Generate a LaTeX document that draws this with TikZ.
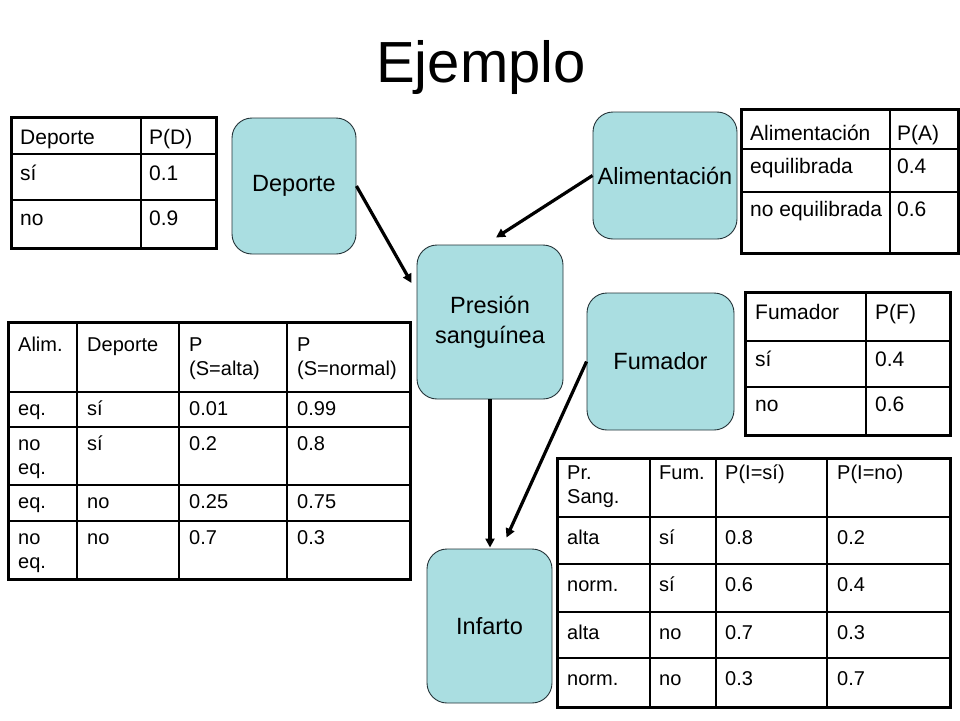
\documentclass[tikz,border=0pt]{standalone}
\usepackage{fontspec}
\setmainfont{Liberation Sans}
\usetikzlibrary{arrows.meta}
\definecolor{nodecyan}{RGB}{170,222,225}
\definecolor{nodeedge}{RGB}{35,50,55}
\newcommand\mytabfont{\fontsize{20}{24}\selectfont}
\newcommand\mybigtabfont{\fontsize{21}{25}\selectfont}
\newcommand\mynodefont{\fontsize{23.5}{30}\selectfont}
\begin{document}
\begin{tikzpicture}[x=1pt,y=-1pt,
  cellt/.style={anchor=base west, inner sep=0pt, font=\mytabfont},
  cellb/.style={anchor=base west, inner sep=0pt, font=\mybigtabfont},
  outerline/.style={line width=3pt},
  innerline/.style={line width=1.1pt},
  bnode/.style={draw=nodeedge, line width=0.9pt, fill=nodecyan, rounded corners=20pt,
     font=\mynodefont, align=center, inner sep=0pt},
  arr/.style={line width=3.2pt, -{Triangle[length=9pt,width=9pt]}}]
\useasboundingbox (0,0) rectangle (960,720);

% title
\node[font=\fontsize{58}{66}\selectfont, anchor=base, inner sep=0pt] (title) at (481,82) {Ejemplo};

% network nodes
\node[bnode, minimum width=124pt, minimum height=136pt] (dep) at (294,186) {Deporte};
\node[bnode, minimum width=144pt, minimum height=127pt] (alim) at (665,175.5) {Alimentación};
\node[bnode, minimum width=146pt, minimum height=154pt] (pres) at (490,322) {Presión\\sanguínea};
\node[bnode, minimum width=147pt, minimum height=137pt] (fum) at (660.5,361.5) {Fumador};
\node[bnode, minimum width=125pt, minimum height=154pt] (inf) at (489.5,626) {Infarto};

% arrows
\draw[arr] (dep.east) -- ([xshift=-5pt,yshift=39pt]pres.west);
\draw[arr] (alim.west) -- ([xshift=6pt,yshift=7pt]pres.north);
\draw[arr] (pres.south) -- ([yshift=1pt]pres.south |- inf.north);
\draw[arr] (fum.west) -- ([xshift=17pt,yshift=11pt]inf.north);

% table P(D)
\draw[innerline] (141,117) -- (141,248) (11,154) -- (216,154) (11,200) -- (216,200);
\draw[outerline] (11,117) rectangle (216,248);
\foreach \x/\y/\t [count=\i] in {20/144/Deporte, 149/144/P(D), 20/180/sí, 149/180/0.1, 20/225/no, 149/225/0.9}
  \node[cellb] (ta\i) at (\x,\y) {\t};

% table P(A)
\draw[innerline] (890,109) -- (890,253) (741,149) -- (958,149) (741,192) -- (958,192);
\draw[outerline] (741,109) rectangle (958,253);
\foreach \x/\y/\t [count=\i] in {750/140/Alimentación, 897/140/P(A), 750/173/equilibrada, 897/173/0.4, 750/216/no equilibrada, 897/216/0.6}
  \node[cellb] (tb\i) at (\x,\y) {\t};

% table P(F)
\draw[innerline] (866,292) -- (866,435) (745,341) -- (950,341) (745,387) -- (950,387);
\draw[outerline] (745,292) rectangle (950,435);
\foreach \x/\y/\t [count=\i] in {755/319/Fumador, 875/319/P(F), 755/366/sí, 875/366/0.4, 755/411/no, 875/411/0.6}
  \node[cellb] (tc\i) at (\x,\y) {\t};

% table P(S | A, D)
\draw[innerline] (77,322) -- (77,579) (179,322) -- (179,579) (287,322) -- (287,579)
  (8,392) -- (410,392) (8,427) -- (410,427) (8,485) -- (410,485) (8,521) -- (410,521);
\draw[outerline] (8,322) rectangle (410,579);
\foreach \x/\y/\t [count=\i] in {18/351/Alim., 87/351/Deporte, 189/351/P, 189/375/(S=alta), 297/351/P, 297/375/(S=normal),
  18/415/eq., 87/415/sí, 189/415/0.01, 297/415/0.99,
  18/450/no, 18/474/eq., 87/450/sí, 189/450/0.2, 297/450/0.8,
  18/508/eq., 87/508/no, 189/508/0.25, 297/508/0.75,
  18/544/no, 18/568/eq., 87/544/no, 189/544/0.7, 297/544/0.3}
  \node[cellt] (td\i) at (\x,\y) {\t};

% table P(I | S, F)
\draw[innerline] (650,458) -- (650,707) (716,458) -- (716,707) (827,458) -- (827,707)
  (557,517) -- (950,517) (557,564) -- (950,564) (557,612) -- (950,612) (557,658) -- (950,658);
\draw[outerline] (557,458) rectangle (950,707);
\foreach \x/\y/\t [count=\i] in {567/479/Pr., 567/503/Sang., 659/479/Fum., 725/479/P(I=sí), 837/479/P(I=no),
  567/544/alta, 659/544/sí, 725/544/0.8, 837/544/0.2,
  567/591/norm., 659/591/sí, 725/591/0.6, 837/591/0.4,
  567/639/alta, 659/639/no, 725/639/0.7, 837/639/0.3,
  567/685/norm., 659/685/no, 725/685/0.3, 837/685/0.7}
  \node[cellt] (te\i) at (\x,\y) {\t};
\end{tikzpicture}
\end{document}
